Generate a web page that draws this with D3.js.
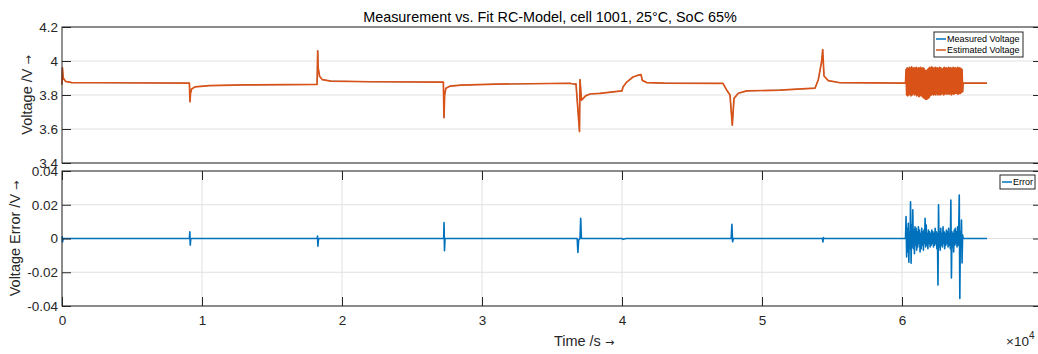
<!DOCTYPE html>
<html>
<head>
<meta charset="utf-8">
<script src="https://cdn.jsdelivr.net/npm/d3@7"></script>
<style>
  body { margin: 0; background: #fff; }
  svg { display: block; font-family: "Liberation Sans", Arial, sans-serif; }
</style>
</head>
<body>
<svg id="chart" width="1038" height="354"></svg>
<script>
// tick labels
const timeTicks = [0, 1, 2, 3, 4, 5, 6, 7]; // x 10^4 s
const voltTicks = [3.4, 3.6, 3.8, 4, 4.2];
const errTicks = [-0.04, -0.02, 0, 0.02, 0.04];

// voltage before the noise burst (s, V)
const voltTime = [0, 30, 90, 250, 700, 3000, 9100, 9143, 9180, 9260, 9500, 10500, 13000,
  18220, 18264, 18300, 18400, 18600, 19200, 22000, 27240, 27286, 27330, 27420, 27700, 28500,
  31000, 36290, 36430, 36640, 36714, 36964, 37000, 37107, 37400, 37714, 38429, 40000, 40071,
  40336, 40786, 41100, 41357, 41450, 41764, 43000, 47214, 47479, 47714, 47879, 48000, 48307,
  48907, 51286, 53786, 54021, 54264, 54336, 54429, 54736, 55571, 58000, 60250];
const voltEst = [3.86, 3.96, 3.90, 3.88, 3.873, 3.872, 3.870, 3.76, 3.81, 3.835, 3.848, 3.855, 3.859,
  3.862, 4.06, 3.96, 3.91, 3.89, 3.882, 3.878, 3.876, 3.667, 3.80, 3.84, 3.852, 3.858,
  3.864, 3.869, 3.866, 3.864, 3.866, 3.585, 3.89, 3.77, 3.795, 3.806, 3.81, 3.824, 3.847,
  3.876, 3.906, 3.915, 3.92, 3.886, 3.873, 3.87, 3.868, 3.829, 3.80, 3.623, 3.78, 3.81,
  3.824, 3.829, 3.84, 3.89, 4.00, 4.067, 3.912, 3.885, 3.872, 3.871, 3.87];

// error before the noise burst (s, V)
const errTime = [0, 20, 40, 80, 9100, 9130, 9160, 9200, 18230, 18250, 18280, 18310, 18350,
  27260, 27290, 27320, 27360, 36800, 36850, 36900, 37000, 37050, 37100, 40000, 40070, 40300,
  47800, 47850, 47900, 47960, 54320, 54350, 54390, 54430, 60250];
const errVal = [0, 0.001, -0.002, 0, 0, 0.004, -0.0039, 0, 0, 0.0015, -0.0045, -0.001, 0,
  0, 0.0094, -0.0072, 0, 0, -0.0082, -0.001, 0, 0.012, 0, 0, -0.0005, 0,
  0, 0.0084, -0.0019, 0, 0, -0.002, 0.0005, 0, 0];

// noise burst, 6.03e4 .. 6.43e4 s
const burstTime = [60290, 60330, 60370, 60410, 60450, 60490, 60530, 60570, 60610, 60650,
  60690, 60730, 60770, 60810, 60850, 60890, 60930, 60970, 61010, 61050,
  61090, 61130, 61170, 61210, 61250, 61290, 61330, 61370, 61410, 61450,
  61490, 61530, 61570, 61610, 61650, 61690, 61730, 61770, 61810, 61850,
  61890, 61930, 61970, 62010, 62050, 62090, 62130, 62170, 62210, 62250,
  62290, 62330, 62370, 62410, 62450, 62490, 62530, 62570, 62610, 62650,
  62690, 62730, 62770, 62810, 62850, 62890, 62930, 62970, 63010, 63050,
  63090, 63130, 63170, 63210, 63250, 63290, 63330, 63370, 63410, 63450,
  63490, 63530, 63570, 63610, 63650, 63690, 63730, 63770, 63810, 63850,
  63890, 63930, 63970, 64010, 64050, 64090, 64130, 64170, 64210, 64250,
  64290, 64330];
const burstVolt = [3.95, 3.80, 3.96, 3.795, 3.955, 3.80, 3.962, 3.805, 3.958, 3.795,
  3.965, 3.80, 3.955, 3.81, 3.96, 3.80, 3.958, 3.805, 3.962, 3.795,
  3.955, 3.80, 3.96, 3.79, 3.958, 3.795, 3.962, 3.80, 3.955, 3.79,
  3.96, 3.785, 3.955, 3.78, 3.945, 3.775, 3.94, 3.775, 3.948, 3.78,
  3.955, 3.785, 3.962, 3.795, 3.958, 3.80, 3.965, 3.805, 3.96, 3.80,
  3.955, 3.805, 3.962, 3.80, 3.958, 3.81, 3.96, 3.80, 3.955, 3.805,
  3.962, 3.80, 3.96, 3.805, 3.95, 3.81, 3.955, 3.80, 3.962, 3.805,
  3.958, 3.81, 3.96, 3.805, 3.955, 3.81, 3.962, 3.805, 3.958, 3.81,
  3.96, 3.80, 3.955, 3.81, 3.962, 3.805, 3.958, 3.81, 3.96, 3.81,
  3.955, 3.81, 3.962, 3.805, 3.958, 3.81, 3.96, 3.81, 3.955, 3.815,
  3.95, 3.82];
const burstErr = [0.013, -0.011, 0.006, -0.008, 0.009, -0.014, 0.004, -0.006, 0.0218, -0.0147,
  0.008, -0.005, 0.017, -0.006, 0.005, -0.009, 0.007, -0.004, 0.006, -0.007,
  0.004, -0.005, 0.007, -0.003, 0.005, -0.008, 0.003, -0.006, 0.006, -0.004,
  0.004, -0.007, 0.005, -0.003, 0.012, -0.005, 0.008, -0.004, 0.003, -0.006,
  0.005, -0.003, 0.004, -0.005, 0.003, -0.004, 0.005, -0.003, 0.004, -0.005,
  0.003, -0.004, 0.006, -0.003, 0.004, -0.006, 0.003, -0.0276, 0.0199, -0.005,
  0.004, -0.007, 0.006, -0.004, 0.003, -0.005, 0.007, -0.003, 0.004, -0.006,
  0.003, -0.004, 0.005, -0.003, 0.004, -0.005, 0.006, -0.004, 0.003, -0.006,
  0.0228, -0.0234, 0.004, -0.005, 0.003, -0.008, 0.005, -0.004, 0.006, -0.003,
  0.004, -0.005, 0.007, -0.004, 0.005, 0.0258, -0.0355, 0.004, -0.003, 0.011,
  -0.0145, 0.002];

// after the burst
const tailTime = [64370, 66070];
const tailVolt = [3.87, 3.87];
const tailErr = [0, 0];

const blue = "#0072BD", orange = "#D95319", ink = "#262626", grid = "#e1e1e1";

const svg = d3.select("#chart");
const left = 62, right = 1042;
const top1 = 27, bot1 = 163, top2 = 171, bot2 = 306;

const x = d3.scaleLinear().domain([0, 70000]).range([left, right]);
const yV = d3.scaleLinear().domain([3.4, 4.2]).range([bot1, top1]);
const yE = d3.scaleLinear().domain([-0.04, 0.04]).range([bot2, top2]);

const pts = (t, v) => t.map((d, i) => [d, v[i]]);
const estData = [...pts(voltTime, voltEst), ...pts(burstTime, burstVolt), ...pts(tailTime, tailVolt)];
const measData = estData; // measured trace lies under the estimate
const errData = [...pts(errTime, errVal), ...pts(burstTime, burstErr), ...pts(tailTime, tailErr)];

// title
svg.append("text")
  .attr("x", 550).attr("y", 22)
  .attr("text-anchor", "middle")
  .style("font-size", "14.4px").attr("fill", "#000")
  .text("Measurement vs. Fit RC-Model, cell 1001, 25°C, SoC 65%");

function panel(y, yTicks, gx, y0, y1) {
  const g = svg.append("g");
  // horizontal grid
  g.append("g").selectAll("line").data(yTicks).join("line")
    .attr("x1", left).attr("x2", right)
    .attr("y1", d => y(d)).attr("y2", d => y(d))
    .attr("stroke", grid).attr("stroke-width", 1);
  if (gx) {
    g.append("g").selectAll("line").data(timeTicks).join("line")
      .attr("x1", d => x(d * 1e4)).attr("x2", d => x(d * 1e4))
      .attr("y1", y0).attr("y2", y1)
      .attr("stroke", grid).attr("stroke-width", 1);
  }
  return g;
}

const g1 = panel(yV, voltTicks, false, top1, bot1);
const g2 = panel(yE, errTicks, true, top2, bot2);

const line = (yScale) => d3.line().x(d => x(d[0])).y(d => yScale(d[1]));

g1.append("path").datum(measData)
  .attr("d", line(yV)).attr("fill", "none")
  .attr("stroke", blue).attr("stroke-width", 0.6);
g1.append("path").datum(estData)
  .attr("d", line(yV)).attr("fill", "none")
  .attr("stroke", orange).attr("stroke-width", 1.7).attr("stroke-linejoin", "round");

g2.append("path").datum(errData)
  .attr("d", line(yE)).attr("fill", "none")
  .attr("stroke", blue).attr("stroke-width", 1.6).attr("stroke-linejoin", "round");

function styleAxis(sel) {
  sel.select(".domain").remove();
  sel.selectAll("line").attr("stroke", ink);
  sel.selectAll("text").attr("fill", ink).style("font-size", "13.5px")
    .style("font-family", "'Liberation Sans', Arial, sans-serif");
}

const fmt = d => String(d);

// top panel axes
svg.append("g").attr("transform", `translate(${left},0)`)
  .call(d3.axisLeft(yV).tickValues(voltTicks).tickFormat(fmt).tickSize(-9).tickPadding(4))
  .call(styleAxis);
svg.append("g").attr("transform", `translate(${right},0)`)
  .call(d3.axisRight(yV).tickValues(voltTicks).tickFormat("").tickSize(-9))
  .call(styleAxis);
svg.append("rect").attr("x", left).attr("y", top1)
  .attr("width", right - left).attr("height", bot1 - top1)
  .attr("fill", "none").attr("stroke", ink).attr("stroke-width", 1);

// bottom panel axes
svg.append("g").attr("transform", `translate(${left},0)`)
  .call(d3.axisLeft(yE).tickValues(errTicks).tickFormat(fmt).tickSize(-9).tickPadding(4))
  .call(styleAxis);
svg.append("g").attr("transform", `translate(${right},0)`)
  .call(d3.axisRight(yE).tickValues(errTicks).tickFormat("").tickSize(-9))
  .call(styleAxis);
svg.append("g").attr("transform", `translate(0,${bot2})`)
  .call(d3.axisBottom(x).tickValues(timeTicks.map(d => d * 1e4)).tickFormat(d => String(d / 1e4)).tickSize(-9).tickPadding(9))
  .call(styleAxis);
svg.append("g").attr("transform", `translate(0,${top2})`)
  .call(d3.axisTop(x).tickValues(timeTicks.map(d => d * 1e4)).tickFormat("").tickSize(-9))
  .call(styleAxis);
svg.append("rect").attr("x", left).attr("y", top2)
  .attr("width", right - left).attr("height", bot2 - top2)
  .attr("fill", "none").attr("stroke", ink).attr("stroke-width", 1);

// axis labels, arrow set in DejaVu so it sits close to the unit
function label(sel, txt) {
  sel.append("tspan").text(txt + " ");
  sel.append("tspan").style("font-family", "'DejaVu Sans', sans-serif")
    .style("font-size", "11px").text("→");
}
svg.append("text")
  .attr("transform", `translate(32,${(top1 + bot1) / 2}) rotate(-90)`)
  .attr("text-anchor", "middle").attr("fill", ink).style("font-size", "14.5px")
  .call(label, "Voltage /V");
svg.append("text")
  .attr("transform", `translate(20,${(top2 + bot2) / 2}) rotate(-90)`)
  .attr("text-anchor", "middle").attr("fill", ink).style("font-size", "14.5px")
  .call(label, "Voltage Error /V");
svg.append("text")
  .attr("x", 584).attr("y", 346)
  .attr("text-anchor", "middle").attr("fill", ink).style("font-size", "14.5px")
  .call(label, "Time /s");
const expo = svg.append("text")
  .attr("x", 1006).attr("y", 346)
  .attr("fill", ink).style("font-size", "13.5px");
expo.append("tspan").text("×10");
expo.append("tspan").attr("dy", -7).style("font-size", "10px").text("4");

// legends
function legend(x0, y0, w, entries) {
  const g = svg.append("g");
  g.append("rect").attr("x", x0).attr("y", y0)
    .attr("width", w).attr("height", entries.length * 11 + 3)
    .attr("fill", "#fff").attr("stroke", ink).attr("stroke-width", 1);
  entries.forEach((e, i) => {
    const cy = y0 + 7 + i * 11;
    g.append("line").attr("x1", x0 + 2).attr("x2", x0 + 12)
      .attr("y1", cy).attr("y2", cy)
      .attr("stroke", e.color).attr("stroke-width", 1.5);
    g.append("text").attr("x", x0 + 13).attr("y", cy + 3.2)
      .attr("fill", "#000").style("font-size", "9px").text(e.label);
  });
}
legend(934, 32, 89, [
  { label: "Measured Voltage", color: blue },
  { label: "Estimated Voltage", color: orange }
]);
legend(1000, 175, 35, [{ label: "Error", color: blue }]);
</script>
</body>
</html>
